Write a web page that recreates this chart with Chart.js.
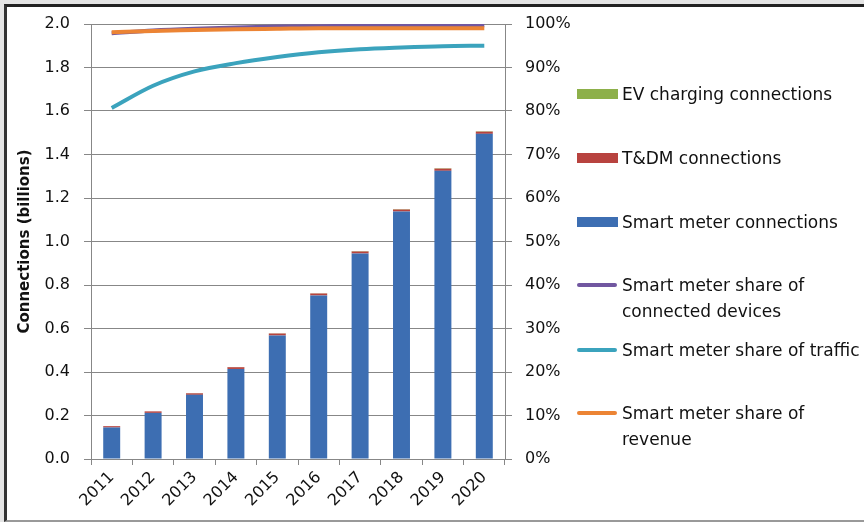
<!DOCTYPE html>
<html>
<head>
<meta charset="utf-8">
<script src="https://cdn.jsdelivr.net/npm/chart.js@4.4.0/dist/chart.umd.min.js"></script>
<style>
  html, body { margin: 0; padding: 0; }
  body { width: 864px; height: 522px; background: #e4e4e4; position: relative; overflow: hidden; font-family: "DejaVu Sans", sans-serif; }
  #frame { position: absolute; left: 4px; top: 4px; width: 864px; height: 513px; background: #fff;
           border-left: 3px solid #333; border-top: 3px solid #222; border-bottom: 2px solid #999; }
  #wrap { position: absolute; left: 0; top: 0; width: 864px; height: 522px; }
  .leg { position: absolute; left: 577px; font-size: 17px; color: #111; line-height: 26px; }
  .leg .sw { position: absolute; left: 0; width: 41px; height: 10px; }
  .leg .ln { position: absolute; left: 0; width: 40px; height: 4px; border-radius: 2px; }
  .leg span.t { position: absolute; left: 45px; white-space: nowrap; }
</style>
</head>
<body>
<div id="frame"></div>
<div id="wrap"><canvas id="grafica" width="864" height="522"></canvas></div>
<div id="leyenda"></div>
<script>
const anios = ["2011", "2012", "2013", "2014", "2015", "2016", "2017", "2018", "2019", "2020"];
const smartMeter = [0.145, 0.212, 0.295, 0.414, 0.568, 0.752, 0.945, 1.138, 1.325, 1.495];
const tdm = [0.006, 0.007, 0.007, 0.008, 0.009, 0.009, 0.009, 0.009, 0.010, 0.010];
const evCharging = [0.000, 0.000, 0.001, 0.001, 0.001, 0.001, 0.002, 0.002, 0.002, 0.002];
const shareDevices = [97.9, 98.5, 98.9, 99.2, 99.4, 99.5, 99.6, 99.7, 99.7, 99.7];
const shareTraffic = [80.7, 85.8, 89.1, 91.0, 92.4, 93.5, 94.2, 94.6, 94.9, 95.0];
const shareRevenue = [98.1, 98.4, 98.6, 98.8, 98.9, 99.0, 99.0, 99.0, 99.0, 99.0];

const colores = {
  ev: "#8db04a",
  tdm: "#b8433f",
  smart: "#3d6eb2",
  devices: "#7157a0",
  traffic: "#3ba3bd",
  revenue: "#ec8434",
};

const fuente = { family: "DejaVu Sans", size: 16 };
const gris = "#878787";

new Chart(document.getElementById("grafica").getContext("2d"), {
  type: "bar",
  data: {
    labels: anios,
    datasets: [
      { label: "Smart meter connections", data: smartMeter, backgroundColor: colores.smart, yAxisID: "y", order: 5, barPercentage: 0.41, categoryPercentage: 1 },
      { label: "T&DM connections", data: tdm, backgroundColor: colores.tdm, yAxisID: "y", order: 5, barPercentage: 0.41, categoryPercentage: 1 },
      { label: "EV charging connections", data: evCharging, backgroundColor: colores.ev, yAxisID: "y", order: 5, barPercentage: 0.41, categoryPercentage: 1 },
      { type: "line", label: "Smart meter share of connected devices", data: shareDevices, borderColor: colores.devices, borderWidth: 4, pointRadius: 0, yAxisID: "y1", order: 1, cubicInterpolationMode: "monotone" },
      { type: "line", label: "Smart meter share of traffic", data: shareTraffic, borderColor: colores.traffic, borderWidth: 4, pointRadius: 0, yAxisID: "y1", order: 2, cubicInterpolationMode: "monotone" },
      { type: "line", label: "Smart meter share of revenue", data: shareRevenue, borderColor: colores.revenue, borderWidth: 4, pointRadius: 0, yAxisID: "y1", order: 0, cubicInterpolationMode: "monotone" },
    ],
  },
  options: {
    responsive: false,
    animation: false,
    layout: { padding: { top: 24, left: 0, right: 0, bottom: 0 } },
    plugins: { legend: { display: false }, tooltip: { enabled: false } },
    scales: {
      x: {
        stacked: true,
        grid: { display: true, drawOnChartArea: false, color: gris, tickLength: 6, offset: true },
        border: { display: true, color: gris },
        ticks: { color: "#111", font: fuente, minRotation: 45, maxRotation: 45, padding: 3 },
        afterFit: (s) => { s.height = 522 - 459; },
      },
      y: {
        stacked: true,
        position: "left",
        min: 0,
        max: 2,
        ticks: { stepSize: 0.2, color: "#111", font: fuente, padding: 14, callback: (v) => v.toFixed(1) },
        grid: { color: gris, tickLength: 7 },
        border: { display: true, color: gris },
        title: { display: true, text: "Connections (billions)", color: "#111", font: { family: "DejaVu Sans", size: 15, weight: "bold" }, padding: { top: 16, bottom: 0 } },
        afterFit: (s) => { s.width = 91; },
      },
      y1: {
        position: "right",
        min: 0,
        max: 100,
        ticks: { stepSize: 10, color: "#111", font: fuente, padding: 13, callback: (v) => v + "%" },
        grid: { drawOnChartArea: false, color: gris, tickLength: 7 },
        border: { display: true, color: gris },
        afterFit: (s) => { s.width = 864 - 505; },
      },
    },
  },
});

// leyenda en HTML
const leyenda = [
  { tipo: "sw", color: colores.ev, texto: "EV charging connections", y: 94 },
  { tipo: "sw", color: colores.tdm, texto: "T&amp;DM connections", y: 158 },
  { tipo: "sw", color: colores.smart, texto: "Smart meter connections", y: 222 },
  { tipo: "ln", color: colores.devices, texto: "Smart meter share of<br>connected devices", y: 285 },
  { tipo: "ln", color: colores.traffic, texto: "Smart meter share of traffic", y: 350 },
  { tipo: "ln", color: colores.revenue, texto: "Smart meter share of<br>revenue", y: 413 },
];
const cont = document.getElementById("leyenda");
leyenda.forEach((item) => {
  const div = document.createElement("div");
  div.className = "leg";
  div.style.top = (item.y - 13) + "px";
  const alto = item.tipo === "sw" ? 10 : 4;
  div.innerHTML = `<div class="${item.tipo}" style="background:${item.color};top:${13 - alto / 2}px"></div><span class="t">${item.texto}</span>`;
  cont.appendChild(div);
});
</script>
</body>
</html>
